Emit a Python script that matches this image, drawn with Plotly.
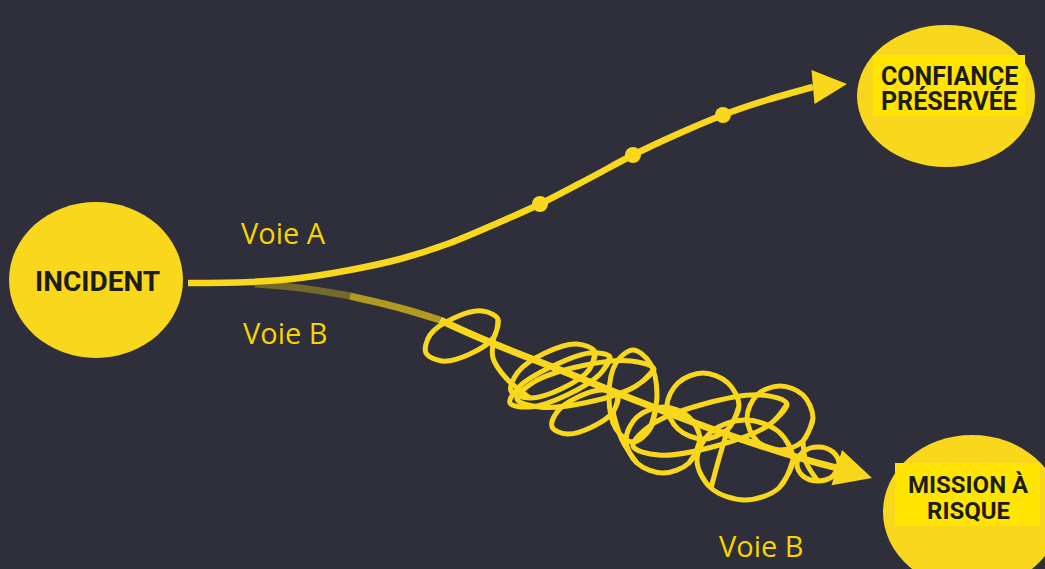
import plotly.graph_objects as go

BG = "#2e2f3a"
YEL = "#f8d71c"
BOX = "#ffe500"
LABEL = "#f7d400"
INK = "#1c1c1c"

# nodes (ellipses)
node_x = [96, 946, 972]
node_y = [280, 96, 512]
node_rx = [87, 89, 89]
node_ry = [78, 71, 77]

# text boxes behind the outcome labels
box_x0 = [873, 895]
box_x1 = [1025, 1040]
box_y0 = [55, 463]
box_y1 = [116, 526]

# label lines
title_text = ["INCIDENT", "CONFIANCE", "PRÉSERVÉE", "MISSION À", "RISQUE"]
title_x = [97, 949, 949, 968, 968]
title_y = [281, 76, 101, 485, 511]
title_size = [28, 25, 25, 24, 24]

voie_text = ["Voie A", "Voie B", "Voie B"]
voie_x = [283, 285, 761]
voie_y = [232, 332, 545]

# Voie A path
a_x = [188, 250, 300, 350, 400, 450, 500, 540, 590, 633, 680, 723, 767, 813, 847]
a_y = [283, 282, 278, 270, 259, 243, 222, 204, 178, 155, 133, 115, 100, 87, 84]
a_dots_x = [540, 633, 723]
a_dots_y = [204, 155, 115]

# Voie B faded start
bf_x = [255, 300, 350, 400, 440]
bf_y = [284, 288, 296, 308, 320]
# Voie B main arrow
b_x = [440, 480, 560, 640, 720, 800, 845, 872]
b_y = [320, 338, 370, 402, 432, 458, 470, 478]

# tangled scribble: loops and connecting strokes (None = pen lift)
s_x = [498, 494, 470, 442, 426, 430, 454, 482, 498, 494, None,
       595, 589, 561, 530, 511, 518, 545, 577, 595, 589, None,
       654, 636, 589, 539, 517, 534, 581, 631, 654, 636, None,
       618, 613, 592, 567, 552, 557, 578, 603, 618, 613, None,
       657, 650, 633, 616, 609, 616, 633, 650, 657, 650, None,
       700, 689, 663, 637, 626, 637, 663, 689, 700, 689, None,
       739, 728, 703, 678, 667, 678, 703, 728, 739, 728, None,
       793, 779, 745, 711, 697, 711, 745, 779, 793, 779, None,
       813, 803, 780, 757, 747, 757, 780, 803, 813, 803, None,
       839, 833, 818, 803, 797, 803, 818, 833, 839, 833, None,
       787, 769, 716, 659, 633, 651, 704, 761, 787, 769, None,
       610, 600, 567, 530, 510, 520, 553, 590, 610, 600, None,
       494, 493, 506, 530, None,
       613, 622, 637, None,
       728, 720, 711, None,
       803, 806, 818]
s_y = [319, 337, 354, 361, 353, 335, 318, 311, 319, 337, None,
       352, 370, 389, 398, 391, 372, 353, 344, 352, 370, None,
       369, 386, 402, 407, 399, 382, 366, 361, 369, 386, None,
       397, 412, 427, 434, 427, 412, 397, 390, 397, 412, None,
       396, 429, 442, 429, 396, 363, 350, 363, 396, 429, None,
       440, 463, 473, 463, 440, 417, 407, 417, 440, 463, None,
       406, 429, 439, 429, 406, 383, 373, 383, 406, 429, None,
       460, 488, 500, 488, 460, 432, 420, 432, 460, 488, None,
       418, 441, 450, 441, 418, 395, 386, 395, 418, 441, None,
       464, 476, 481, 476, 464, 452, 447, 452, 464, 476, None,
       404, 425, 446, 455, 446, 425, 404, 395, 404, 425, None,
       357, 374, 395, 407, 403, 386, 366, 353, 357, 374, None,
       337, 358, 378, 398, None,
       412, 440, 463, None,
       429, 455, 488, None,
       441, 462, 481]

fig = go.Figure()

# scribble
fig.add_trace(go.Scatter(x=s_x, y=s_y, mode="lines", connectgaps=False,
                         line=dict(color=YEL, width=5, shape="spline", smoothing=1.0),
                         hoverinfo="skip", showlegend=False))

# faded start of Voie B
fig.add_trace(go.Scatter(x=bf_x[:3], y=bf_y[:3], mode="lines",
                         line=dict(color="rgba(246,213,18,0.35)", width=7, shape="spline"),
                         hoverinfo="skip", showlegend=False))
fig.add_trace(go.Scatter(x=bf_x[2:], y=bf_y[2:], mode="lines",
                         line=dict(color="rgba(246,213,18,0.65)", width=7, shape="spline"),
                         hoverinfo="skip", showlegend=False))

# Voie B main line
fig.add_trace(go.Scatter(x=b_x[:-1], y=b_y[:-1], mode="lines",
                         line=dict(color=YEL, width=7, shape="spline"),
                         hoverinfo="skip", showlegend=False))

# Voie A
fig.add_trace(go.Scatter(x=a_x[:-1], y=a_y[:-1], mode="lines",
                         line=dict(color=YEL, width=6.5, shape="spline"),
                         hoverinfo="skip", showlegend=False))
fig.add_trace(go.Scatter(x=a_dots_x, y=a_dots_y, mode="markers",
                         marker=dict(size=16, color=YEL, opacity=1, line=dict(width=0)),
                         hoverinfo="skip", showlegend=False))

shapes = []
for cx, cy, rx, ry in zip(node_x, node_y, node_rx, node_ry):
    shapes.append(dict(type="circle", xref="x", yref="y",
                       x0=cx - rx, x1=cx + rx, y0=cy - ry, y1=cy + ry,
                       fillcolor=YEL, line=dict(width=0), layer="above"))
for x0, x1, y0, y1 in zip(box_x0, box_x1, box_y0, box_y1):
    shapes.append(dict(type="rect", xref="x", yref="y",
                       x0=x0, x1=x1, y0=y0, y1=y1,
                       fillcolor=BOX, line=dict(width=0), layer="above"))

annotations = []
# arrowheads at the ends of both paths
for px, py, w in ((a_x, a_y, 6.5), (b_x, b_y, 7)):
    annotations.append(dict(x=px[-1], y=py[-1], ax=px[-2], ay=py[-2],
                            xref="x", yref="y", axref="x", ayref="y",
                            text="", showarrow=True, arrowhead=2,
                            arrowsize=1.05, arrowwidth=w, arrowcolor=YEL,
                            standoff=0, startstandoff=0))
for t, x, y, s in zip(title_text, title_x, title_y, title_size):
    annotations.append(dict(text="<b>" + t + "</b>", x=x, y=y, xref="x", yref="y",
                            showarrow=False, xanchor="center", yanchor="middle",
                            font=dict(family="Roboto", size=s, color=INK)))
for t, x, y in zip(voie_text, voie_x, voie_y):
    annotations.append(dict(text=t, x=x, y=y, xref="x", yref="y",
                            showarrow=False, xanchor="center", yanchor="middle",
                            font=dict(family="Open Sans", size=29, color=LABEL)))

fig.update_layout(
    width=1045, height=569,
    margin=dict(l=0, r=0, t=0, b=0),
    paper_bgcolor=BG, plot_bgcolor=BG,
    xaxis=dict(range=[0, 1045], visible=False, fixedrange=True),
    yaxis=dict(range=[569, 0], visible=False, fixedrange=True),
    shapes=shapes, annotations=annotations,
    showlegend=False,
)

fig.write_html("out.html", config={"displayModeBar": False},
               post_script="document.body.style.margin='0';"
                           "document.body.style.background='#2e2f3a';"
                           "document.body.style.overflow='hidden';")
